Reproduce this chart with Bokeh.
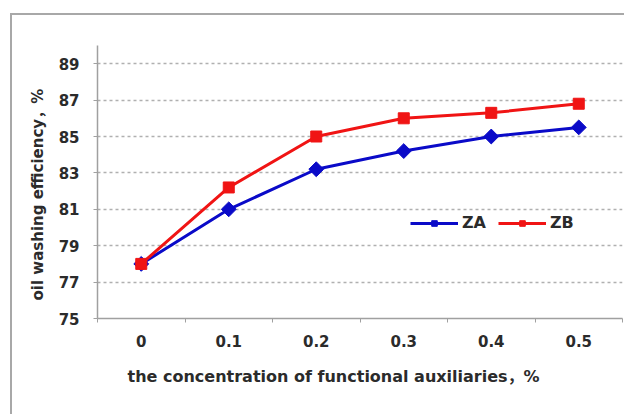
from bokeh.plotting import figure
from bokeh.models import FixedTicker, Range1d, Legend, LegendItem, ColumnDataSource, Title
from bokeh.embed import file_html
from bokeh.resources import INLINE
import math

categories = ["0", "0.1", "0.2", "0.3", "0.4", "0.5"]
za = [78.0, 81.0, 83.2, 84.2, 85.0, 85.5]
zb = [78.0, 82.2, 85.0, 86.0, 86.3, 86.8]
y_ticks = [75, 77, 79, 81, 83, 85, 87, 89]
series_names = ["ZA", "ZB"]
x_title = "the concentration of functional auxiliaries，%"
y_title = "oil  washing efficiency，%"

xs = list(range(len(categories)))
src = ColumnDataSource(dict(x=xs, za=za, zb=zb))

FONT = "DejaVu Sans, Noto Sans CJK SC"
TXT = "#2b2b2b"
AX = "#a0a0a0"

p = figure(width=614, height=401, output_backend="svg", toolbar_location=None,
           x_range=Range1d(-0.5, len(categories) - 0.5), y_range=Range1d(75, 90),
           min_border_left=85, min_border_right=4, min_border_top=30, min_border_bottom=98)
p.margin = (13, 0, 0, 10)
p.styles = {"border-left": "2px solid #a8a8a8", "border-top": "2px solid #a8a8a8"}
p.outline_line_color = None
p.background_fill_color = "white"
p.border_fill_color = "white"

# x axis
p.xaxis.ticker = FixedTicker(ticks=xs, minor_ticks=[i - 0.5 for i in range(len(categories) + 1)])
p.xaxis.major_label_overrides = {i: c for i, c in zip(xs, categories)}
p.xaxis.major_tick_out = 0
p.xaxis.major_tick_in = 0
p.xaxis.minor_tick_out = 4
p.xaxis.minor_tick_in = 0
p.xaxis.minor_tick_line_color = AX
p.xaxis.axis_line_color = AX
p.xaxis.axis_line_width = 1.5
p.xaxis.major_label_standoff = 12

# y axis
p.yaxis.ticker = FixedTicker(ticks=y_ticks, minor_ticks=[])
p.yaxis.major_tick_out = 4
p.yaxis.major_tick_in = 0
p.yaxis.major_tick_line_color = AX
p.yaxis.axis_line_color = AX
p.yaxis.axis_line_width = 1.5
p.yaxis.major_label_standoff = 14

for ax in (p.xaxis, p.yaxis):
    ax.major_label_text_font = FONT
    ax.major_label_text_font_style = "bold"
    ax.major_label_text_font_size = "15px"
    ax.major_label_text_color = TXT

xt = Title(text=x_title, align="left", offset=30, standoff=30,
           text_font=FONT, text_font_style="bold", text_font_size="16px", text_color=TXT)
p.add_layout(xt, "below")
yt = Title(text=y_title, align="left", offset=18, standoff=18,
           text_font=FONT, text_font_style="bold", text_font_size="15px", text_color=TXT)
p.add_layout(yt, "left")

p.xgrid.grid_line_color = None
p.ygrid.ticker = FixedTicker(ticks=y_ticks[1:])
p.ygrid.grid_line_color = "#b0b0b0"
p.ygrid.grid_line_dash = "3 3"
p.ygrid.grid_line_width = 1.5

BLUE = "#0a0ac8"
RED = "#f01414"

p.line("x", "za", source=src, color=BLUE, line_width=3)
p.scatter("x", "za", source=src, marker="square", angle=math.pi / 4, size=10.5,
          fill_color=BLUE, line_color=BLUE)
p.line("x", "zb", source=src, color=RED, line_width=3)
p.scatter("x", "zb", source=src, marker="square", size=11, fill_color=RED, line_color=RED)

# legend proxies (one point outside the visible range)
proxy = ColumnDataSource(dict(x=[-10], y=[0]))
la = p.line("x", "y", source=proxy, color=BLUE, line_width=3)
lam = p.scatter("x", "y", source=proxy, marker="square", angle=math.pi / 4, size=4,
                fill_color=BLUE, line_color=BLUE)
lb = p.line("x", "y", source=proxy, color=RED, line_width=3)
lbm = p.scatter("x", "y", source=proxy, marker="square", size=8, fill_color=RED, line_color=RED)

legend = Legend(items=[LegendItem(label=series_names[0], renderers=[la, lam]),
                       LegendItem(label=series_names[1], renderers=[lb, lbm])],
                orientation="horizontal", location=(313, 86),
                glyph_width=48, glyph_height=14, label_standoff=4, spacing=12,
                padding=0, margin=0,
                border_line_color=None, background_fill_alpha=0,
                label_text_font=FONT, label_text_font_style="bold",
                label_text_font_size="16px", label_text_color=TXT)
p.add_layout(legend)

open("out.html", "w").write(file_html(p, INLINE))
